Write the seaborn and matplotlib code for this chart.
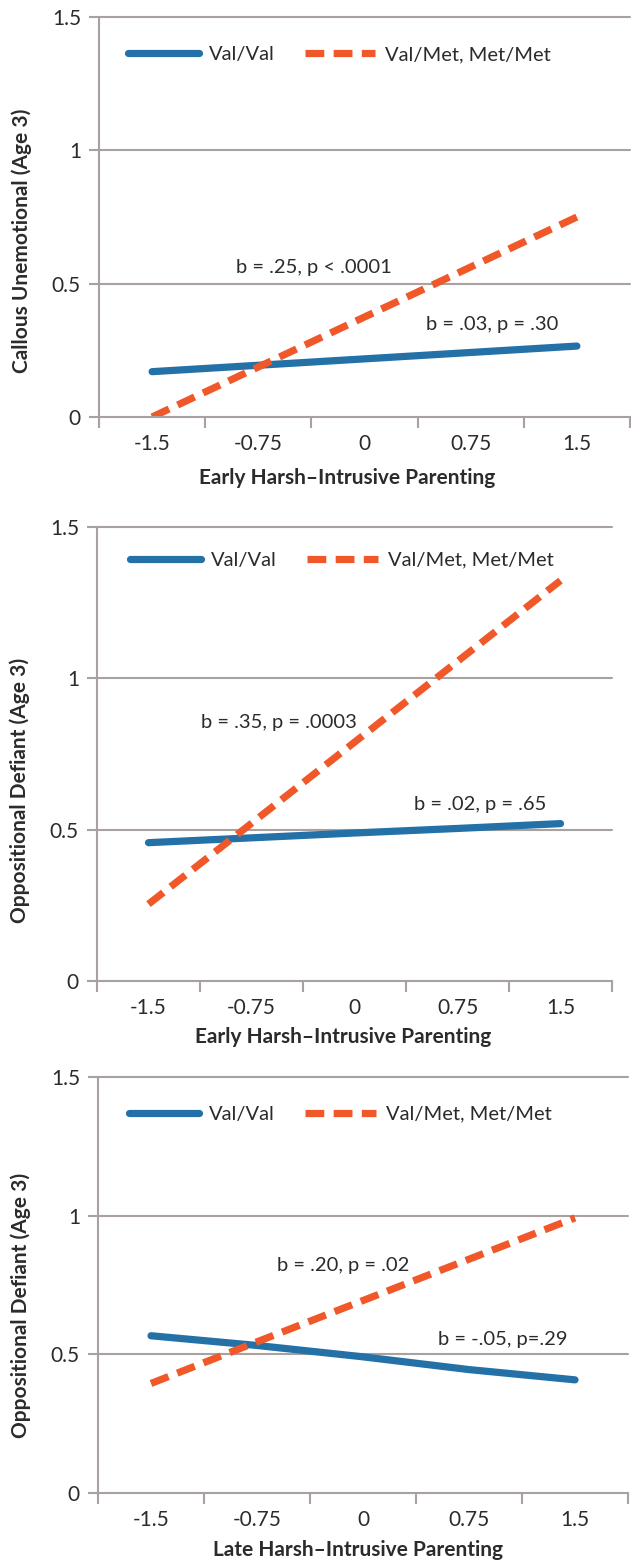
import matplotlib
matplotlib.use("Agg")
import matplotlib.pyplot as plt
import seaborn as sns
import pandas as pd
from matplotlib.lines import Line2D

sns.set_theme(style="white")
plt.rcParams['font.family'] = ['Lato', 'DejaVu Sans']

# ---- data ----
x_levels = ["-1.5", "-0.75", "0", "0.75", "1.5"]
groups = ["Val/Val", "Val/Met, Met/Met"]

p1_valval = [0.17, 0.194, 0.218, 0.242, 0.266]
p1_valmet = [0.0, 0.1875, 0.375, 0.5625, 0.75]
p2_valval = [0.457, 0.473, 0.489, 0.504, 0.52]
p2_valmet = [0.254, 0.521, 0.789, 1.056, 1.323]
p3_valval = [0.567, 0.532, 0.491, 0.445, 0.408]
p3_valmet = [0.395, 0.545, 0.694, 0.843, 0.992]

ylabels = ["Callous Unemotional (Age 3)", "Oppositional Defiant (Age 3)", "Oppositional Defiant (Age 3)"]
xlabels = ["Early Harsh\u2013Intrusive Parenting", "Early Harsh\u2013Intrusive Parenting", "Late Harsh\u2013Intrusive Parenting"]
annotations = [
    [("b = .25, p < .0001", 1.52, 0.559), ("b = .03, p = .30", 3.20, 0.347)],
    [("b = .35, p = .0003", 1.27, 0.854), ("b = .02, p = .65", 3.22, 0.582)],
    [("b = .20, p = .02", 1.81, 0.82), ("b = -.05, p=.29", 3.32, 0.555)],
]
yticks = [0, 0.5, 1, 1.5]
ytick_labels = ["0", "0.5", "1", "1.5"]

series = [(p1_valval, p1_valmet), (p2_valval, p2_valmet), (p3_valval, p3_valmet)]

# ---- layout ----
W, H = 631, 1564
fig = plt.figure(figsize=(W / 100, H / 100), dpi=100)
fig.patch.set_facecolor("white")

rects = [
    (99 / W, 1 - 417 / H, 531 / W, 400 / H),
    (97 / W, 1 - 981 / H, 515 / W, 454 / H),
    (98 / W, 1 - 1493 / H, 530 / W, 416 / H),
]
legend_y = [1.36, 1.39, 1.366]
legend_x = [0.055, 0.065, 0.058]
xlabel_pos = [(0.467, -0.1525), (0.478, -0.123), (0.49, -0.137)]
ylabel_pos = [(-0.145, 0.44), (-0.15, 0.42), (-0.145, 0.45)]

BLUE = "#2471a8"
ORANGE = "#f0582a"
GRID = "#a8a19f"
TXT = "#2b2b2b"
DASH = (2.6, 1.3)

for i in range(3):
    ax = fig.add_axes(rects[i])
    vv, vm = series[i]
    df = pd.DataFrame({
        "x": x_levels * 2,
        "y": vv + vm,
        "group": [groups[0]] * 5 + [groups[1]] * 5,
    })
    sns.lineplot(data=df, x="x", y="y", hue="group", style="group",
                 palette={groups[0]: BLUE, groups[1]: ORANGE},
                 dashes={groups[0]: "", groups[1]: DASH},
                 linewidth=5.2, sort=False, ax=ax, legend=False)
    for ln in ax.get_lines():
        ln.set_solid_capstyle("round")
        ln.set_dash_capstyle("butt")

    ax.set_xlim(-0.5, 4.5)
    ax.set_ylim(0, 1.5)
    ax.set_yticks(yticks)
    ax.set_yticklabels(ytick_labels)
    ax.set_xticks(range(5))
    ax.set_xticklabels(x_levels)
    ax.set_xticks([k - 0.5 for k in range(6)], minor=True)
    ax.tick_params(axis="x", which="major", length=0, pad=12, labelsize=15, labelcolor=TXT)
    ax.tick_params(axis="x", which="minor", length=8, width=1.5, color=GRID, direction="out", bottom=True)
    ax.tick_params(axis="y", which="major", length=7, width=1.5, color=GRID, direction="out", left=True,
                   pad=6, labelsize=15, labelcolor=TXT)

    for yv in [0.5, 1.0, 1.5]:
        ax.axhline(yv, color=GRID, lw=1.5, zorder=0, clip_on=False)
    for s in ["top", "right"]:
        ax.spines[s].set_visible(False)
    for s in ["left", "bottom"]:
        ax.spines[s].set_color(GRID)
        ax.spines[s].set_linewidth(1.5)
    ax.set_facecolor("white")

    ax.set_xlabel(xlabels[i], fontsize=15, fontweight="bold", color=TXT)
    ax.xaxis.set_label_coords(*xlabel_pos[i])
    ax.xaxis.label.set_va("center")
    ax.set_ylabel(ylabels[i], fontsize=15, fontweight="bold", color=TXT)
    ax.yaxis.set_label_coords(*ylabel_pos[i])
    ax.yaxis.label.set_va("center")

    for txt, xx, yy in annotations[i]:
        ax.text(xx, yy, txt, ha="center", va="center", fontsize=14.5, color=TXT)

    handles = [
        Line2D([], [], color=BLUE, lw=5.2, solid_capstyle="round"),
        Line2D([], [], color=ORANGE, lw=5.2, dashes=DASH),
    ]
    ax.legend(handles, groups, loc="center left",
              bbox_to_anchor=(legend_x[i], legend_y[i] / 1.5),
              ncol=2, frameon=False, prop={"size": 14.5}, handlelength=3.5,
              handletextpad=0.5, columnspacing=1.5, borderpad=0, borderaxespad=0,
              labelcolor=TXT)

fig.savefig("out.png", dpi=100, facecolor="white")
